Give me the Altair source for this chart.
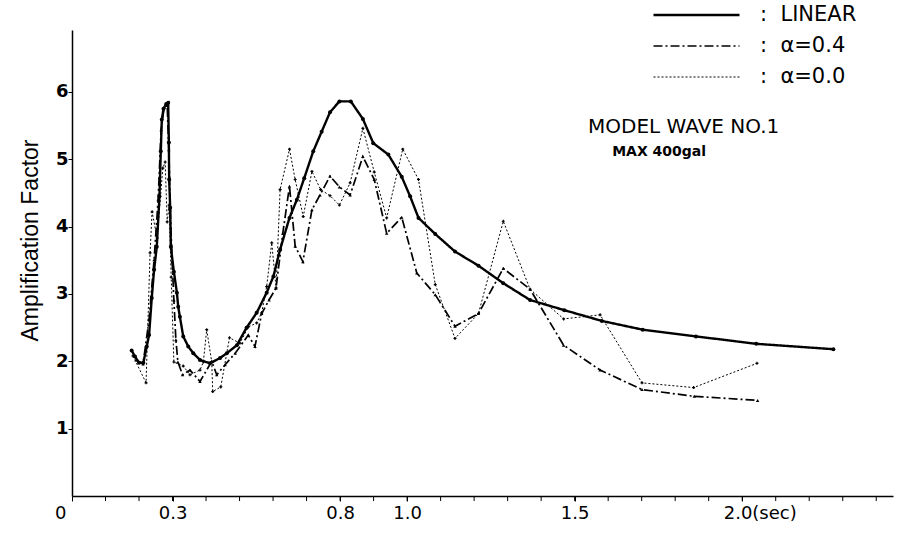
import altair as alt
import pandas as pd

# ---- data (period in sec, amplification factor) ----
lin_t = [0.178, 0.188, 0.200, 0.213, 0.223, 0.230, 0.238, 0.245, 0.253, 0.261, 0.265, 0.268,
         0.273, 0.281, 0.287, 0.289, 0.290, 0.293, 0.295, 0.304, 0.313, 0.317, 0.322, 0.332,
         0.347, 0.362, 0.382, 0.412, 0.442, 0.462, 0.492, 0.521, 0.551, 0.581, 0.601, 0.621,
         0.649, 0.671, 0.693, 0.720, 0.745, 0.770, 0.798, 0.832, 0.868, 0.899, 0.944, 0.984,
         1.009, 1.034, 1.084, 1.143, 1.213, 1.287, 1.367, 1.469, 1.581, 1.703, 1.862, 2.042, 2.272]
lin_a = [2.16, 2.07, 1.98, 1.98, 2.22, 2.39, 2.94, 3.36, 3.70, 4.45, 5.12, 5.59,
         5.75, 5.82, 5.84, 5.25, 4.70, 4.28, 3.70, 3.33, 3.02, 2.81, 2.66, 2.37,
         2.22, 2.12, 2.02, 1.97, 2.05, 2.12, 2.24, 2.50, 2.72, 3.02, 3.26, 3.66,
         4.13, 4.40, 4.72, 5.12, 5.41, 5.70, 5.86, 5.86, 5.60, 5.24, 5.07, 4.74,
         4.45, 4.13, 3.89, 3.63, 3.42, 3.16, 2.91, 2.76, 2.60, 2.47, 2.37, 2.26, 2.18]

a04_t = [0.191, 0.212, 0.230, 0.245, 0.257, 0.266, 0.275, 0.284, 0.289, 0.293, 0.299, 0.304,
         0.310, 0.316, 0.330, 0.352, 0.382, 0.417, 0.432, 0.457, 0.487, 0.526, 0.546, 0.566,
         0.588, 0.609, 0.629, 0.649, 0.666, 0.689, 0.716, 0.740, 0.770, 0.798, 0.830, 0.868,
         0.902, 0.939, 0.984, 1.029, 1.084, 1.143, 1.213, 1.287, 1.367, 1.467, 1.576, 1.701,
         1.857, 2.046]
a04_a = [2.02, 1.96, 2.62, 3.51, 4.40, 5.44, 5.77, 5.80, 5.14, 4.25, 3.48, 2.91,
         2.32, 1.99, 1.80, 1.87, 1.70, 2.00, 1.80, 1.95, 2.12, 2.39, 2.22, 2.71,
         2.91, 3.09, 3.90, 4.60, 3.71, 3.48, 4.25, 4.47, 4.75, 4.59, 4.47, 5.04,
         4.70, 3.90, 4.14, 3.31, 2.99, 2.52, 2.71, 3.38, 3.07, 2.24, 1.87, 1.58,
         1.48, 1.42]

a00_t = [0.182, 0.221, 0.233, 0.239, 0.254, 0.271, 0.278, 0.284, 0.290, 0.296, 0.304, 0.332,
         0.352, 0.382, 0.392, 0.402, 0.417, 0.420, 0.444, 0.470, 0.501, 0.526, 0.551, 0.566,
         0.581, 0.596, 0.609, 0.621, 0.649, 0.666, 0.690, 0.716, 0.742, 0.770, 0.798, 0.830,
         0.868, 0.902, 0.939, 0.987, 1.034, 1.084, 1.143, 1.213, 1.287, 1.367, 1.467, 1.576,
         1.701, 1.855, 2.044]
a00_a = [2.08, 1.68, 3.61, 4.22, 3.83, 4.87, 4.96, 4.07, 4.32, 3.25, 1.99, 1.93,
         1.80, 1.87, 1.99, 2.47, 1.99, 1.55, 1.62, 2.35, 2.27, 2.51, 2.57, 2.72,
         3.11, 3.76, 3.09, 4.55, 5.15, 4.70, 4.15, 4.82, 4.55, 4.46, 4.32, 4.65,
         5.46, 4.81, 4.13, 5.15, 4.70, 3.14, 2.34, 2.71, 4.08, 3.07, 2.63, 2.69,
         1.68, 1.61, 1.97]

series_names = ["LINEAR", "α=0.4", "α=0.0"]
series_shapes = ["circle", "triangle-up", "cross"]
series_sizes = [16, 12, 9]
minor_ticks = [round(i * 0.1, 1) for i in range(1, 25)]
label_ticks = [0.0, 0.3, 0.8, 1.0, 1.5, 2.0]
label_texts = ["0", "0.3", "0.8", "1.0", "1.5", "2.0(sec)"]
y_ticks = [1, 2, 3, 4, 5, 6]

ann_text = ["MODEL WAVE NO.1", "MAX 400gal"]
ann_t = [1.540, 1.612]
ann_a = [5.48, 5.11]

# ---- build tables ----
rows = []
for name, ts, vs in zip(series_names, [lin_t, a04_t, a00_t], [lin_a, a04_a, a00_a]):
    for i, (t, v) in enumerate(zip(ts, vs)):
        rows.append({"series": name, "t": t, "amp": v, "idx": i})
df = pd.DataFrame(rows)
ann_df = pd.DataFrame({"text": ann_text, "t": ann_t, "amp": ann_a})
tick_df = pd.DataFrame({"t": minor_ticks, "y0": 0.0, "y1": -0.075})

label_expr = " : ".join(
    f"datum.value == {k} ? '{v}'" for k, v in zip(label_ticks, label_texts)
) + " : ''"

x_scale = alt.Scale(domain=[0, 2.45], nice=False, zero=False)
y_scale = alt.Scale(domain=[0, 6.92], nice=False, zero=False)

x_enc = alt.X(
    "t:Q", scale=x_scale,
    axis=alt.Axis(
        values=label_ticks, labelExpr=label_expr, title=None, grid=False,
        domainColor="black", domainWidth=1.5, tickColor="black", tickSize=5,
        tickWidth=1, labelPadding=3, labelFont="DejaVu Sans", labelFontSize=18,
        labelColor="black", labelFlush=False, labelOverlap=False,
        labelAlign={"condition": [{"test": "datum.value == 0", "value": "right"},
                                  {"test": "datum.value == 2", "value": "left"}],
                    "value": "center"},
        labelOffset={"condition": [{"test": "datum.value == 0", "value": -6},
                                   {"test": "datum.value == 2", "value": -19}],
                     "value": 0},
    ),
)
y_enc = alt.Y(
    "amp:Q", scale=y_scale,
    axis=alt.Axis(
        values=y_ticks, format="d", title="Amplification Factor", grid=False,
        domainColor="black", domainWidth=1.5, tickColor="black", tickSize=4,
        tickWidth=1, labelPadding=0, labelFont="DejaVu Sans", labelFontSize=18,
        labelFontWeight="bold", labelColor="black",
        titleFont="Liberation Sans", titleFontSize=23, titleFontWeight="normal",
        titleColor="black", titleX=-42, titleY=210, titleAngle=-90,
        titleAlign="center", titleBaseline="middle",
    ),
)

legend = alt.Legend(
    orient="none", legendX=580, legendY=-26, title=None, padding=0,
    symbolType="stroke", symbolSize=7396, clipHeight=22, rowPadding=9,
    labelOffset=19, labelFont="DejaVu Sans", labelFontSize=21, labelColor="black",
    labelExpr="':\u00a0\u00a0' + datum.label", symbolStrokeColor="black",
)

lines = alt.Chart(df).mark_line(color="black").encode(
    x=x_enc, y=y_enc, order="idx:Q",
    strokeDash=alt.StrokeDash(
        "series:N",
        scale=alt.Scale(domain=series_names, range=[[1, 0], [9, 3, 2, 3], [2, 2]]),
        legend=legend,
    ),
    strokeWidth=alt.StrokeWidth(
        "series:N",
        scale=alt.Scale(domain=series_names, range=[2.4, 1.0, 1.2]),
        legend=legend,
    ),
)

point_layers = []
for name, shp, sz in zip(series_names, series_shapes, series_sizes):
    point_layers.append(
        alt.Chart(df).transform_filter(alt.datum.series == name)
        .mark_point(filled=True, color="black", opacity=1, shape=shp, size=sz)
        .encode(x=alt.X("t:Q", scale=x_scale), y=alt.Y("amp:Q", scale=y_scale))
    )

minor = alt.Chart(tick_df).mark_rule(color="black", strokeWidth=1, clip=False).encode(
    x=alt.X("t:Q", scale=x_scale),
    y=alt.Y("y0:Q", scale=y_scale),
    y2="y1:Q",
)

title1 = alt.Chart(ann_df.iloc[[0]]).mark_text(
    align="left", baseline="middle", font="DejaVu Sans", fontSize=20, color="black"
).encode(x=alt.X("t:Q", scale=x_scale), y=alt.Y("amp:Q", scale=y_scale), text="text:N")

title2 = alt.Chart(ann_df.iloc[[1]]).mark_text(
    align="left", baseline="middle", font="DejaVu Sans", fontSize=14,
    fontWeight="bold", color="black"
).encode(x=alt.X("t:Q", scale=x_scale), y=alt.Y("amp:Q", scale=y_scale), text="text:N")

chart = alt.layer(lines, *point_layers, minor, title1, title2).properties(
    width=821, height=466,
    padding={"left": 72, "top": 30, "right": 6, "bottom": 37},
    autosize=alt.AutoSizeParams(type="none"),
    background="white",
).configure_view(stroke=None)

chart.save("out.html", embed_options={"renderer": "svg", "actions": False})
